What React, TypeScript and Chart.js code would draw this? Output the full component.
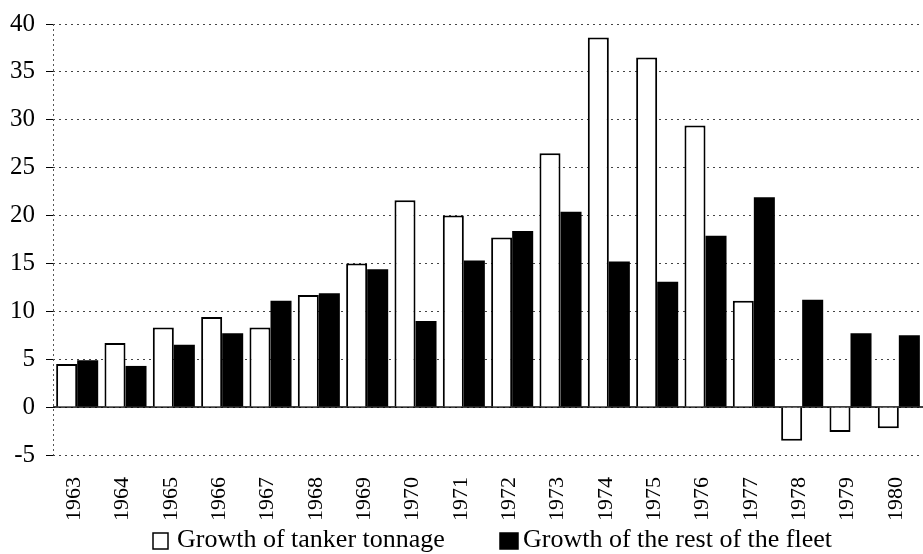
import React, { useEffect, useRef } from "react";
import { Chart, registerables } from "chart.js";

Chart.register(...registerables);

const years = ["1963","1964","1965","1966","1967","1968","1969","1970","1971","1972","1973","1974","1975","1976","1977","1978","1979","1980"];
const tankerGrowth = [4.5, 6.7, 8.3, 9.4, 8.3, 11.7, 15.0, 21.6, 20.0, 17.7, 26.5, 38.6, 36.5, 29.4, 11.1, -3.5, -2.6, -2.2];
const restGrowth = [4.9, 4.3, 6.5, 7.7, 11.1, 11.9, 14.4, 9.0, 15.3, 18.4, 20.4, 15.2, 13.1, 17.9, 21.9, 11.2, 7.7, 7.5];
const seriesLabels = ["Growth of tanker tonnage", "Growth of the rest of the fleet"];
const yMin = -5;
const yMax = 40;
const yStep = 5;

const FONT = "'Liberation Serif', 'Times New Roman', serif";

const extrasPlugin = {
  id: "extras",
  beforeDatasetsDraw(chart: any) {
    const { ctx, chartArea, scales } = chart;
    const y = scales.y;
    ctx.save();
    ctx.strokeStyle = "#555";
    ctx.lineWidth = 1;
    ctx.setLineDash([2, 3]);
    ctx.beginPath();
    ctx.moveTo(chartArea.left + 0.5, chartArea.top);
    ctx.lineTo(chartArea.left + 0.5, chartArea.bottom);
    ctx.stroke();
    ctx.setLineDash([]);
    ctx.strokeStyle = "#000";
    ctx.lineWidth = 1.5;
    const y0 = y.getPixelForValue(0);
    ctx.beginPath();
    ctx.moveTo(chartArea.left, y0);
    ctx.lineTo(chartArea.right, y0);
    ctx.stroke();
    ctx.restore();
  },
  afterDraw(chart: any) {
    const { ctx, width } = chart;
    const baseY = 547;
    const items = [
      { boxX: 153, boxW: 15, textX: 177, fill: "#fff" },
      { boxX: 500, boxW: 18, textX: 523, fill: "#000" },
    ];
    ctx.save();
    ctx.font = `26px ${FONT}`;
    ctx.textBaseline = "alphabetic";
    ctx.textAlign = "left";
    items.forEach((it, i) => {
      const sx = width / 923;
      ctx.fillStyle = it.fill;
      ctx.fillRect(it.boxX * sx, baseY - 14, it.boxW, 16);
      ctx.strokeStyle = "#000";
      ctx.lineWidth = 1.5;
      ctx.strokeRect(it.boxX * sx, baseY - 14, it.boxW, 16);
      ctx.fillStyle = "#000";
      ctx.fillText(chart.data.datasets[i].label, it.textX * sx, baseY);
    });
    ctx.restore();
  },
};

export default function App() {
  const canvasRef = useRef<HTMLCanvasElement | null>(null);

  useEffect(() => {
    document.body.style.margin = "0";
    const canvas = canvasRef.current;
    if (!canvas) return;
    const chart = new Chart(canvas, {
      type: "bar",
      data: {
        labels: years,
        datasets: [
          {
            label: seriesLabels[0],
            data: tankerGrowth,
            backgroundColor: "#ffffff",
            borderColor: "#000000",
            borderWidth: 2,
            categoryPercentage: 0.87,
            barPercentage: 1.0,
          },
          {
            label: seriesLabels[1],
            data: restGrowth,
            backgroundColor: "#000000",
            borderColor: "#000000",
            borderWidth: 0,
            categoryPercentage: 0.87,
            barPercentage: 1.0,
          },
        ],
      },
      options: {
        animation: false,
        responsive: false,
        maintainAspectRatio: false,
        layout: { padding: { top: 24, bottom: 32, left: 0, right: 0 } },
        plugins: {
          legend: { display: false },
          tooltip: { enabled: false },
          title: { display: false },
        },
        scales: {
          x: {
            grid: { display: false },
            border: { display: false },
            ticks: {
              color: "#000",
              font: { family: FONT, size: 22 },
              minRotation: 90,
              maxRotation: 90,
              padding: 14,
              labelOffset: -3,
              autoSkip: false,
            },
            afterFit: (scale: any) => {
              scale.height = 67;
              scale.paddingLeft = 0;
              scale.paddingRight = 0;
            },
          },
          y: {
            min: yMin,
            max: yMax,
            grid: {
              color: "#444",
              lineWidth: 1,
              drawTicks: true,
              tickLength: 7,
              tickColor: "#000",
            },
            border: { display: false, dash: [2, 4] },
            ticks: {
              stepSize: yStep,
              color: "#000",
              font: { family: FONT, size: 25 },
              padding: 11,
            },
            afterFit: (scale: any) => {
              scale.width = 53;
              scale.paddingTop = 0;
              scale.paddingBottom = 0;
            },
          },
        },
      },
      plugins: [extrasPlugin],
    });
    return () => chart.destroy();
  }, []);

  return (
    <div style={{ position: "absolute", left: 0, top: 0, width: 923, height: 554, background: "#fff" }}>
      <canvas ref={canvasRef} width={923} height={554} style={{ width: 923, height: 554, display: "block" }} />
    </div>
  );
}
